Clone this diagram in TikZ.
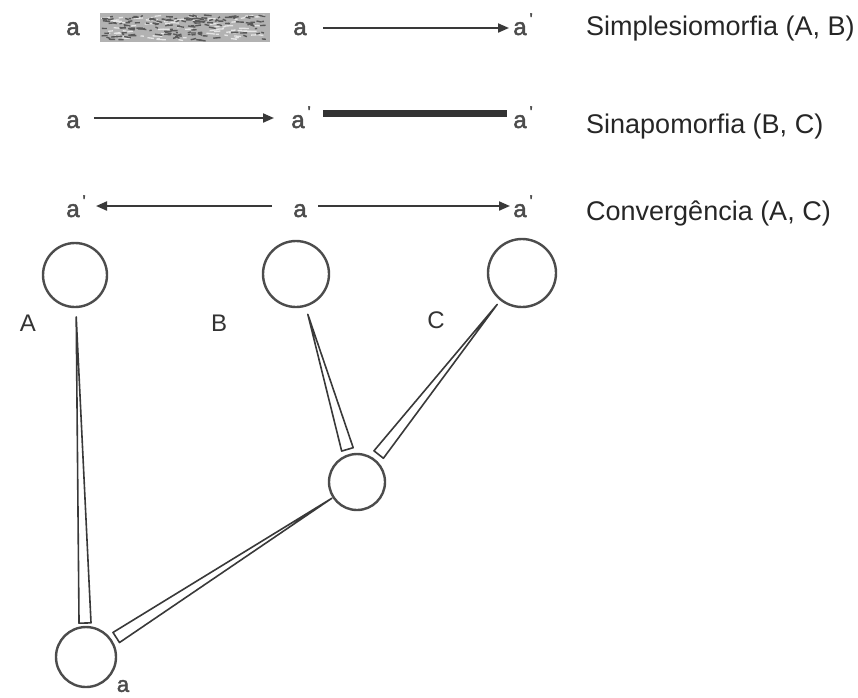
\documentclass[tikz,border=0pt]{standalone}
\usepackage{fontspec}
\setmainfont{Liberation Sans}
\newfontfamily\letf{Liberation Sans}[FakeBold=2]
\usetikzlibrary{arrows.meta,calc}
\begin{document}
\begin{tikzpicture}[x=1pt,y=-1pt,
  circ/.style={circle,draw=gray!60!black,line width=2.4pt,fill=white,inner sep=0pt},
  letter/.style={inner sep=0pt,anchor=base,text=gray!60!black,font=\letf\fontsize{24}{24}\selectfont},
  legend/.style={inner sep=0pt,anchor=base west,text=black!85,font=\fontsize{27}{30}\selectfont},
  taxon/.style={inner sep=0pt,text=black!80,font=\fontsize{24}{24}\selectfont},
  arr/.style={draw=gray!45!black,line width=2pt,-{Triangle[length=11pt,width=9pt]}},
  bar/.style={draw=black!80,line width=7pt},
  wedge/.style={draw=gray!45!black,line width=1.6pt,line join=round}]
\useasboundingbox (0,0) rectangle (858,697);
\newcommand\pr{\rlap{\raisebox{10pt}{\fontsize{17}{17}\selectfont\,'}}}
% ---- row 1 : Simplesiomorfia
\node[letter] (r1a) at (73,35) {a};
\fill[gray!60] (100,13) rectangle (270,42);
\pgfmathsetseed{7}
\foreach \i in {1,...,80}{
  \pgfmathsetmacro\xx{101+160*rnd}
  \pgfmathsetmacro\yy{15+25*rnd}
  \pgfmathsetmacro\ll{3+7*rnd}
  \draw[gray!20,line width=1.3pt] (\xx,\yy) -- ++(\ll,-1+2*rnd);
}
\foreach \i in {1,...,140}{
  \pgfmathsetmacro\xx{101+162*rnd}
  \pgfmathsetmacro\yy{15+25*rnd}
  \pgfmathsetmacro\ll{2+6*rnd}
  \draw[gray!70!black,line width=1.4pt] (\xx,\yy) -- ++(\ll,-1.5+3*rnd);
}
\node[letter] (r1b) at (300,35) {a};
\node[letter] (r1c) at (520,35) {a\pr};
\draw[arr] (323,28) -- (509,28);
\node[legend] (t1) at (586,35) {Simplesiomorfia (A, B)};
% ---- row 2 : Sinapomorfia
\node[letter] (r2a) at (73,128) {a};
\node[letter] (r2b) at (298,128) {a\pr};
\node[letter] (r2c) at (520,128) {a\pr};
\draw[arr] (r2a.east|-0,118) ++(14,0) -- (274,118);
\draw[bar] (323,113) -- (507,113);
\node[legend] (t2) at (586,133) {Sinapomorfia (B, C)};
% ---- row 3 : Convergencia
\node[letter] (r3a) at (73,217) {a\pr};
\node[letter] (r3b) at (300,217) {a};
\node[letter] (r3c) at (520,217) {a\pr};
\draw[arr] (272,206) -- (96,206);
\draw[arr] (318,206) -- (510,206);
\node[legend] (t3) at (586,220) {Convergência (A, C)};
% ---- tree
\node[circ,minimum size=64pt] (A) at (75,275) {};
\node[circ,minimum size=66pt] (B) at (296,274) {};
\node[circ,minimum size=68pt] (C) at (522,273) {};
\node[circ,minimum size=56pt] (M) at (357,482) {};
\node[circ,minimum size=60pt] (R) at (86,657) {};
\node[taxon] (lA) at (28,323) {A};
\node[taxon] (lB) at (219,323) {B};
\node[taxon] (lC) at (436,320) {C};
\node[taxon,font=\letf\fontsize{22}{22}\selectfont,text=gray!60!black] (lR) at (123,686) {a};
% connectors (narrow wedges)
\coordinate (pA) at ($(A.center)!42pt!(R.center)$);
\coordinate (qA) at ($(R.center)!34pt!(A.center)$);
\coordinate (pB) at ($(B.center)!42pt!(M.center)$);
\coordinate (qB) at ($(M.center)!34pt!(B.center)$);
\coordinate (pC) at ($(C.center)!40pt!(M.center)$);
\coordinate (qC) at ($(M.center)!35pt!(C.center)$);
\coordinate (pM) at ($(M.center)!30pt!(R.center)$);
\coordinate (qM) at ($(R.center)!36pt!(M.center)$);
\foreach \p/\q in {pA/qA,pB/qB,pC/qC,pM/qM}{
  \draw[wedge] (\p) -- ($(\q)!6pt!90:(\p)$) -- ($(\q)!6pt!-90:(\p)$) -- cycle;
}
\end{tikzpicture}
\end{document}
